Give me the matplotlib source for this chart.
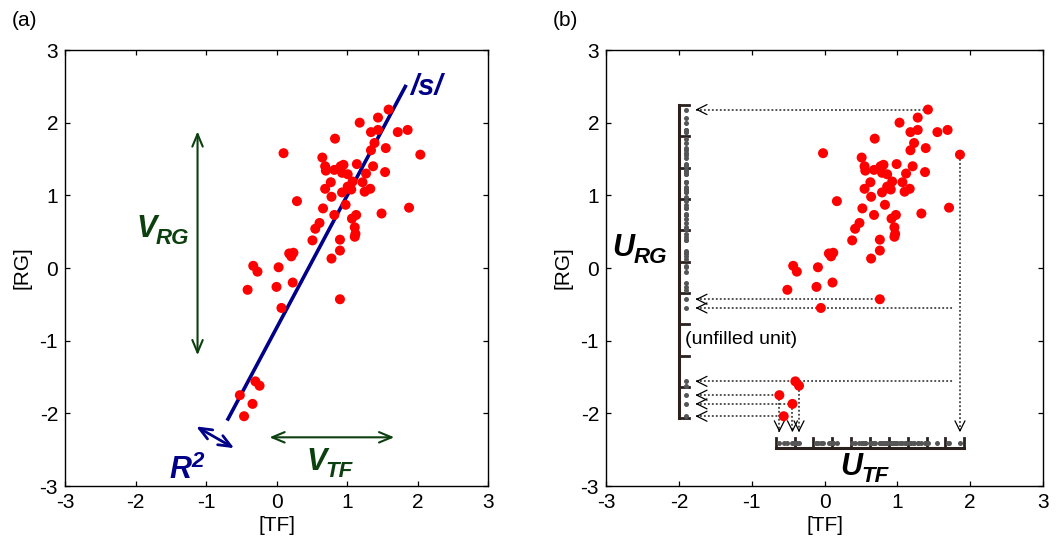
import matplotlib
matplotlib.use('Agg')
import matplotlib.pyplot as plt
import numpy as np

plt.rcParams['font.family'] = ['Liberation Sans', 'DejaVu Sans']
plt.rcParams['axes.unicode_minus'] = False

# scatter data, [TF] and [RG]
tf = [1.42, 1.28, 1.03, 1.18, 1.28, 1.55, 1.69, 0.69, 1.23, 1.18,
      1.39, 1.86, -0.02, 0.51, 0.55, 0.56, 0.68, 0.77, 0.81, 0.79,
      0.86, 0.99, 1.21, 1.12, 1.38, 0.63, 0.55, 0.64, 0.79, 0.86,
      0.93, 0.91, 1.07, 1.10, 1.17, 0.83, 0.17, 0.52, 0.68, 0.92,
      0.98, 1.33, 1.71, 0.48, 0.42, 0.96, 0.97, 0.96, 0.38, 0.76,
      0.76, 0.64, 0.06, 0.12, 0.09, -0.09, -0.43, -0.38, 0.11, -0.11,
      -0.51, 0.76, -0.05, -0.40, -0.35, -0.62, -0.44, -0.56]
rg = [2.18, 2.07, 2.00, 1.87, 1.90, 1.87, 1.90, 1.78, 1.72, 1.62,
      1.65, 1.56, 1.58, 1.52, 1.40, 1.34, 1.35, 1.40, 1.42, 1.31,
      1.29, 1.43, 1.40, 1.30, 1.32, 1.18, 1.09, 0.98, 1.04, 1.12,
      1.19, 1.08, 1.18, 1.05, 1.09, 0.87, 0.92, 0.82, 0.73, 0.68,
      0.73, 0.75, 0.83, 0.62, 0.54, 0.56, 0.47, 0.43, 0.38, 0.39,
      0.24, 0.13, 0.20, 0.21, 0.16, 0.01, 0.03, -0.05, -0.20, -0.26,
      -0.30, -0.43, -0.55, -1.56, -1.62, -1.75, -1.87, -2.04]
# the same points as they sit in panel (a)
tf_a = [1.59, 1.44, 1.18, 1.34, 1.44, 1.72, 1.86, 0.83, 1.39, 1.34,
        1.55, 2.04, 0.10, 0.65, 0.69, 0.70, 0.82, 0.91, 0.95, 0.93,
        1.01, 1.14, 1.37, 1.27, 1.54, 0.77, 0.69, 0.78, 0.93, 1.01,
        1.08, 1.06, 1.22, 1.25, 1.33, 0.98, 0.29, 0.66, 0.82, 1.07,
        1.13, 1.49, 1.88, 0.61, 0.55, 1.11, 1.12, 1.11, 0.51, 0.90,
        0.90, 0.78, 0.18, 0.24, 0.21, 0.03, -0.33, -0.27, 0.23, 0.00,
        -0.41, 0.90, 0.07, -0.30, -0.24, -0.52, -0.34, -0.46]

# regression line in panel (a)
fit_tf = [-0.70, 1.84]
fit_rg = [-2.10, 2.52]

# projections drawn in panel (b)
hproj_x = [1.42, 0.76, 1.77, 1.77, -0.62, -0.44, -0.56]
hproj_y = [2.18, -0.43, -0.55, -1.56, -1.75, -1.87, -2.04]
vproj_x = [-0.62, -0.44, -0.35, 1.86]
vproj_y = [-1.75, -1.87, -1.62, 1.56]

n_units = 10
urg_x, urg_top, urg_bot = -2.00, 2.243, -2.066
utf_y, utf_left, utf_right = -2.48, -0.67, 1.92

navy = '#000088'
green = '#0c400e'
red = '#ff0000'
bracket = '#2a211f'

fig = plt.figure(figsize=(10.6, 5.46), dpi=100)
ax1 = fig.add_axes([65/1060, 60/546, 423/1060, 436/546])
ax2 = fig.add_axes([606/1060, 60/546, 437/1060, 436/546])

for ax in (ax1, ax2):
    ax.set_xlim(-3, 3)
    ax.set_ylim(-3, 3)
    ax.set_xticks(range(-3, 4))
    ax.set_yticks(range(-3, 4))
    ax.tick_params(direction='in', length=3.6, width=0.9, top=True, right=True,
                   labelsize=15, pad=5)
    for sp in ax.spines.values():
        sp.set_linewidth(1.0)
    ax.set_xlabel('[TF]', fontsize=15, labelpad=3)
    ax.set_ylabel('[RG]', fontsize=15, labelpad=6)


def sub_label(ax, x, y, main, small, color, sup=False):
    t = ax.text(x, y, main, fontsize=22, fontweight='bold', style='italic',
                color=color, va='baseline', ha='left')
    if sup:
        ax.annotate(small, xy=(1, 1), xycoords=t, xytext=(0, 3),
                    textcoords='offset points', fontsize=16, fontweight='bold',
                    style='italic', color=color, va='top', ha='left')
    else:
        ax.annotate(small, xy=(1, 0), xycoords=t, xytext=(-1, 0),
                    textcoords='offset points', fontsize=16, fontweight='bold',
                    style='italic', color=color, va='baseline', ha='left')


# ---- panel (a)
ax1.plot(fit_tf, fit_rg, color=navy, lw=2.6, zorder=2, solid_capstyle='butt')
ax1.scatter(tf_a, rg, s=52, color=red, edgecolors='none', zorder=3)
ax1.text(1.90, 2.38, '/s/', fontsize=21, fontweight='bold', style='italic',
         color=navy, va='baseline')

garrow = dict(arrowstyle='<->, head_length=0.6, head_width=0.25', color=green,
              lw=1.5, shrinkA=0, shrinkB=0, mutation_scale=15)
ax1.annotate('', xy=(-1.12, 1.88), xytext=(-1.12, -1.20), arrowprops=garrow)
ax1.annotate('', xy=(1.67, -2.33), xytext=(-0.10, -2.33), arrowprops=garrow)
barrow = dict(arrowstyle='<->, head_length=0.6, head_width=0.25', color=navy,
              lw=2.0, shrinkA=0, shrinkB=0, mutation_scale=15)
ax1.annotate('', xy=(-1.14, -2.18), xytext=(-0.60, -2.48), arrowprops=barrow)

sub_label(ax1, -1.99, 0.43, 'V', 'RG', green)
sub_label(ax1, 0.42, -2.78, 'V', 'TF', green)
sub_label(ax1, -1.52, -2.89, 'R', '2', navy, sup=True)

# ---- panel (b)
# U_RG bracket
ax2.plot([urg_x, urg_x], [urg_top, urg_bot], color=bracket, lw=2.2,
         solid_capstyle='projecting', zorder=2)
for yv in np.linspace(urg_top, urg_bot, n_units + 1):
    ax2.plot([urg_x, urg_x + 0.137], [yv, yv], color=bracket, lw=2.0, zorder=2)
ax2.plot([urg_x + 0.10] * len(rg), rg, 'o', ms=3.6, color='#555555',
         mec='none', zorder=3)

# U_TF bracket
ax2.plot([utf_left, utf_right], [utf_y, utf_y], color=bracket, lw=2.2,
         solid_capstyle='projecting', zorder=2)
for xv in np.linspace(utf_left, utf_right, n_units + 1):
    ax2.plot([xv, xv], [utf_y, utf_y + 0.138], color=bracket, lw=2.0, zorder=2)
ax2.plot(tf, [utf_y + 0.075] * len(tf), 'o', ms=3.6, color='#555555',
         mec='none', zorder=3)

# dotted projection arrows
tip_x, tip_y = -1.77, -2.26
head = dict(arrowstyle='->, head_length=0.6, head_width=0.3', color='k',
            lw=0.9, shrinkA=0, shrinkB=0, mutation_scale=12)
for xv, yv in zip(hproj_x, hproj_y):
    ax2.plot([tip_x, xv], [yv, yv], ls=(0, (1.2, 1.4)), color='#222222',
             lw=1.1, zorder=1)
    ax2.annotate('', xy=(tip_x, yv), xytext=(tip_x + 0.04, yv), arrowprops=head)
for xv, yv in zip(vproj_x, vproj_y):
    ax2.plot([xv, xv], [yv, tip_y], ls=(0, (1.2, 1.4)), color='#222222',
             lw=1.1, zorder=1)
    ax2.annotate('', xy=(xv, tip_y), xytext=(xv, tip_y + 0.04), arrowprops=head)

ax2.scatter(tf, rg, s=52, color=red, edgecolors='none', zorder=4)

ax2.text(-1.92, -0.99, '(unfilled unit)', fontsize=14, va='center', ha='left')
sub_label(ax2, -2.91, 0.17, 'U', 'RG', 'black')
sub_label(ax2, 0.22, -2.85, 'U', 'TF', 'black')

fig.text(12/1060, 1 - 20/546, '(a)', fontsize=15, va='center', ha='left')
fig.text(553/1060, 1 - 20/546, '(b)', fontsize=15, va='center', ha='left')

fig.savefig('out.png', dpi=100)
